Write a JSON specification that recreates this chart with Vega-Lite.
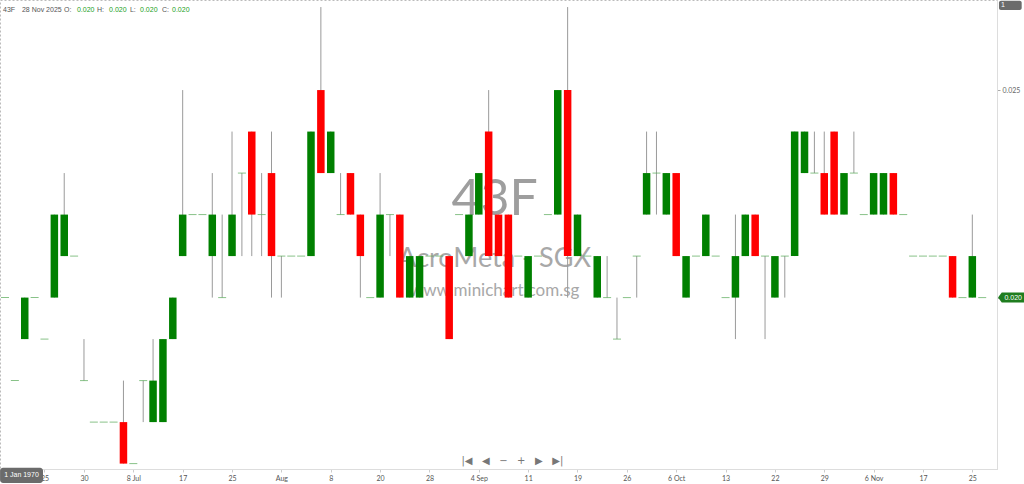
{
  "$schema": "https://vega.github.io/schema/vega-lite/v6.json",
  "width": 997,
  "height": 469,
  "autosize": {"type": "none"},
  "padding": {"left": 0, "top": 0, "right": 27, "bottom": 15},
  "background": "white",
  "config": {"view": {"stroke": "#bbbbbb", "strokeDash": [2, 2]}, "font": "Lato"},
  "data": {"values": [
    {"i":0,"o":0.020,"h":0.020,"l":0.020,"c":0.020},
    {"i":1,"o":0.018,"h":0.018,"l":0.018,"c":0.018},
    {"i":2,"o":0.019,"h":0.020,"l":0.019,"c":0.020},
    {"i":3,"o":0.020,"h":0.020,"l":0.020,"c":0.020},
    {"i":4,"o":0.019,"h":0.019,"l":0.019,"c":0.019},
    {"i":5,"o":0.020,"h":0.022,"l":0.020,"c":0.022},
    {"i":6,"o":0.021,"h":0.023,"l":0.021,"c":0.022},
    {"i":7,"o":0.021,"h":0.021,"l":0.021,"c":0.021},
    {"i":8,"o":0.018,"h":0.019,"l":0.018,"c":0.018},
    {"i":9,"o":0.017,"h":0.017,"l":0.017,"c":0.017},
    {"i":10,"o":0.017,"h":0.017,"l":0.017,"c":0.017},
    {"i":11,"o":0.017,"h":0.017,"l":0.017,"c":0.017},
    {"i":12,"o":0.017,"h":0.018,"l":0.016,"c":0.016},
    {"i":13,"o":0.016,"h":0.016,"l":0.016,"c":0.016},
    {"i":14,"o":0.018,"h":0.018,"l":0.017,"c":0.018},
    {"i":15,"o":0.017,"h":0.019,"l":0.017,"c":0.018},
    {"i":16,"o":0.017,"h":0.019,"l":0.017,"c":0.019},
    {"i":17,"o":0.019,"h":0.020,"l":0.019,"c":0.020},
    {"i":18,"o":0.021,"h":0.025,"l":0.021,"c":0.022},
    {"i":19,"o":0.022,"h":0.022,"l":0.022,"c":0.022},
    {"i":20,"o":0.022,"h":0.022,"l":0.022,"c":0.022},
    {"i":21,"o":0.021,"h":0.023,"l":0.020,"c":0.022},
    {"i":22,"o":0.020,"h":0.022,"l":0.020,"c":0.020},
    {"i":23,"o":0.021,"h":0.024,"l":0.021,"c":0.022},
    {"i":24,"o":0.023,"h":0.023,"l":0.021,"c":0.023},
    {"i":25,"o":0.024,"h":0.024,"l":0.021,"c":0.022},
    {"i":26,"o":0.022,"h":0.023,"l":0.021,"c":0.022},
    {"i":27,"o":0.023,"h":0.024,"l":0.020,"c":0.021},
    {"i":28,"o":0.021,"h":0.021,"l":0.020,"c":0.021},
    {"i":29,"o":0.021,"h":0.021,"l":0.021,"c":0.021},
    {"i":30,"o":0.021,"h":0.021,"l":0.021,"c":0.021},
    {"i":31,"o":0.021,"h":0.024,"l":0.021,"c":0.024},
    {"i":32,"o":0.025,"h":0.027,"l":0.023,"c":0.023},
    {"i":33,"o":0.023,"h":0.024,"l":0.023,"c":0.024},
    {"i":34,"o":0.022,"h":0.023,"l":0.022,"c":0.022},
    {"i":35,"o":0.023,"h":0.023,"l":0.022,"c":0.022},
    {"i":36,"o":0.022,"h":0.022,"l":0.020,"c":0.021},
    {"i":37,"o":0.020,"h":0.020,"l":0.020,"c":0.020},
    {"i":38,"o":0.020,"h":0.023,"l":0.020,"c":0.022},
    {"i":39,"o":0.022,"h":0.022,"l":0.021,"c":0.022},
    {"i":40,"o":0.022,"h":0.022,"l":0.020,"c":0.020},
    {"i":41,"o":0.020,"h":0.021,"l":0.020,"c":0.021},
    {"i":42,"o":0.020,"h":0.021,"l":0.020,"c":0.021},
    {"i":43,"o":0.021,"h":0.021,"l":0.021,"c":0.021},
    {"i":44,"o":0.021,"h":0.021,"l":0.021,"c":0.021},
    {"i":45,"o":0.021,"h":0.021,"l":0.019,"c":0.019},
    {"i":46,"o":0.022,"h":0.022,"l":0.022,"c":0.022},
    {"i":47,"o":0.021,"h":0.022,"l":0.021,"c":0.022},
    {"i":48,"o":0.022,"h":0.023,"l":0.022,"c":0.023},
    {"i":49,"o":0.024,"h":0.025,"l":0.021,"c":0.021},
    {"i":50,"o":0.022,"h":0.022,"l":0.021,"c":0.021},
    {"i":51,"o":0.022,"h":0.022,"l":0.020,"c":0.020},
    {"i":52,"o":0.021,"h":0.021,"l":0.021,"c":0.021},
    {"i":53,"o":0.020,"h":0.021,"l":0.020,"c":0.021},
    {"i":54,"o":0.021,"h":0.021,"l":0.021,"c":0.021},
    {"i":55,"o":0.022,"h":0.022,"l":0.022,"c":0.022},
    {"i":56,"o":0.022,"h":0.025,"l":0.022,"c":0.025},
    {"i":57,"o":0.025,"h":0.027,"l":0.020,"c":0.021},
    {"i":58,"o":0.021,"h":0.022,"l":0.021,"c":0.022},
    {"i":59,"o":0.021,"h":0.021,"l":0.021,"c":0.021},
    {"i":60,"o":0.020,"h":0.021,"l":0.020,"c":0.021},
    {"i":61,"o":0.020,"h":0.021,"l":0.020,"c":0.020},
    {"i":62,"o":0.019,"h":0.020,"l":0.019,"c":0.019},
    {"i":63,"o":0.020,"h":0.020,"l":0.020,"c":0.020},
    {"i":64,"o":0.021,"h":0.021,"l":0.020,"c":0.021},
    {"i":65,"o":0.022,"h":0.024,"l":0.022,"c":0.023},
    {"i":66,"o":0.023,"h":0.024,"l":0.022,"c":0.023},
    {"i":67,"o":0.022,"h":0.023,"l":0.022,"c":0.023},
    {"i":68,"o":0.023,"h":0.023,"l":0.021,"c":0.021},
    {"i":69,"o":0.020,"h":0.021,"l":0.020,"c":0.021},
    {"i":70,"o":0.021,"h":0.021,"l":0.021,"c":0.021},
    {"i":71,"o":0.021,"h":0.022,"l":0.021,"c":0.022},
    {"i":72,"o":0.021,"h":0.021,"l":0.021,"c":0.021},
    {"i":73,"o":0.020,"h":0.020,"l":0.020,"c":0.020},
    {"i":74,"o":0.020,"h":0.022,"l":0.019,"c":0.021},
    {"i":75,"o":0.021,"h":0.022,"l":0.021,"c":0.022},
    {"i":76,"o":0.022,"h":0.022,"l":0.021,"c":0.021},
    {"i":77,"o":0.021,"h":0.021,"l":0.019,"c":0.021},
    {"i":78,"o":0.020,"h":0.021,"l":0.020,"c":0.021},
    {"i":79,"o":0.021,"h":0.021,"l":0.020,"c":0.021},
    {"i":80,"o":0.021,"h":0.024,"l":0.021,"c":0.024},
    {"i":81,"o":0.023,"h":0.024,"l":0.023,"c":0.024},
    {"i":82,"o":0.023,"h":0.024,"l":0.023,"c":0.023},
    {"i":83,"o":0.023,"h":0.024,"l":0.022,"c":0.022},
    {"i":84,"o":0.024,"h":0.024,"l":0.022,"c":0.022},
    {"i":85,"o":0.022,"h":0.023,"l":0.022,"c":0.023},
    {"i":86,"o":0.023,"h":0.024,"l":0.023,"c":0.023},
    {"i":87,"o":0.022,"h":0.022,"l":0.022,"c":0.022},
    {"i":88,"o":0.022,"h":0.023,"l":0.022,"c":0.023},
    {"i":89,"o":0.022,"h":0.023,"l":0.022,"c":0.023},
    {"i":90,"o":0.023,"h":0.023,"l":0.022,"c":0.022},
    {"i":91,"o":0.022,"h":0.022,"l":0.022,"c":0.022},
    {"i":92,"o":0.021,"h":0.021,"l":0.021,"c":0.021},
    {"i":93,"o":0.021,"h":0.021,"l":0.021,"c":0.021},
    {"i":94,"o":0.021,"h":0.021,"l":0.021,"c":0.021},
    {"i":95,"o":0.021,"h":0.021,"l":0.021,"c":0.021},
    {"i":96,"o":0.021,"h":0.021,"l":0.020,"c":0.020},
    {"i":97,"o":0.020,"h":0.020,"l":0.020,"c":0.020},
    {"i":98,"o":0.020,"h":0.022,"l":0.020,"c":0.021},
    {"i":99,"o":0.020,"h":0.020,"l":0.020,"c":0.020}
  ]},
  "encoding": {
    "x": {
      "field": "i", "type": "quantitative",
      "scale": {"domain": [-0.507, 100.5], "nice": false, "zero": false, "padding": 0},
      "axis": {
        "values": [4, 8, 13, 18, 23, 28, 33, 38, 43, 48, 53, 58, 63, 68, 73, 78, 83, 88, 93, 98],
        "labelExpr": "({'4':'25','8':'30','13':'8 Jul','18':'17','23':'25','28':'Aug','33':'8','38':'20','43':'28','48':'4 Sep','53':'11','58':'19','63':'26','68':'6 Oct','73':'13','78':'22','83':'29','88':'6 Nov','93':'17','98':'25'})[datum.value + '']",
        "title": null, "grid": false, "domainColor": "#dddddd", "tickColor": "#cccccc",
        "tickSize": 3, "labelColor": "#555555", "labelFontSize": 7, "labelPadding": 2, "labelFont": "Lato"
      }
    }
  },
  "layer": [
    {
      "transform": [{"filter": "datum.i == 99"}],
      "mark": {"type": "text", "fontSize": 50, "color": "#9e9e9e", "font": "Lato", "align": "center", "baseline": "middle"},
      "encoding": {"x": {"datum": 49.6}, "y": {"datum": 0.02234, "type": "quantitative", "scale": {"domain": [0.01587, 0.02717], "nice": false, "zero": false, "padding": 0},
          "axis": {"orient": "right", "values": [0.020, 0.025], "format": ".3f", "title": null, "grid": false,
            "domainColor": "#dddddd", "tickColor": "#aaaaaa", "tickSize": 3, "labelColor": "#666666", "labelFontSize": 7, "labelPadding": 2, "labelFont": "Lato"}}, "text": {"value": "43F"}}
    },
    {
      "transform": [{"filter": "datum.i == 99"}],
      "mark": {"type": "text", "fontSize": 27, "color": "#a8a8a8", "font": "Lato", "align": "center", "baseline": "middle"},
      "encoding": {"x": {"datum": 49.6}, "y": {"datum": 0.02094, "type": "quantitative"}, "text": {"value": "AcroMeta - SGX"}}
    },
    {
      "transform": [{"filter": "datum.i == 99"}],
      "mark": {"type": "text", "fontSize": 17, "color": "#a8a8a8", "font": "Lato", "align": "center", "baseline": "middle"},
      "encoding": {"x": {"datum": 49.6}, "y": {"datum": 0.02017, "type": "quantitative"}, "text": {"value": "www.minichart.com.sg"}}
    },
    {
      "transform": [{"filter": "datum.h > datum.l"}],
      "mark": {"type": "rule", "color": "#9a9a9a", "strokeWidth": 1},
      "encoding": {
        "y": {"field": "l", "type": "quantitative"},
        "y2": {"field": "h"}
      }
    },
    {
      "transform": [{"filter": "datum.o != datum.c"}],
      "mark": {"type": "bar", "size": 7.5},
      "encoding": {
        "y": {"field": "o", "type": "quantitative"},
        "y2": {"field": "c"},
        "color": {"condition": {"test": "datum.c > datum.o", "value": "#008000"}, "value": "#ff0000"}
      }
    },
    {
      "transform": [{"filter": "datum.o == datum.c"}],
      "mark": {"type": "tick", "orient": "horizontal", "size": 8, "thickness": 1, "color": "#55a855"},
      "encoding": {"y": {"field": "c", "type": "quantitative"}}
    },
    {
      "transform": [{"filter": "datum.i == 99"}],
      "mark": {"type": "point", "shape": "M-1,0L-0.72,-0.38L1,-0.38L1,0.38L-0.72,0.38Z", "size": 690, "filled": true, "color": "#1f7d1f", "opacity": 1, "xOffset": 29, "clip": false},
      "encoding": {"y": {"field": "c", "type": "quantitative"}}
    },
    {
      "transform": [{"filter": "datum.i == 99"}],
      "mark": {"type": "text", "fontSize": 7, "color": "white", "dx": 31, "align": "center", "baseline": "middle", "font": "Liberation Sans"},
      "encoding": {"y": {"field": "c", "type": "quantitative"}, "text": {"field": "c", "format": ".3f"}}
    },
    {
      "transform": [{"filter": "datum.i == 99"}],
      "mark": {"type": "text", "fontSize": 7, "color": "#555555", "align": "left", "baseline": "middle", "font": "Liberation Sans"},
      "encoding": {"x": {"datum": -0.2}, "y": {"datum": 0.02692, "type": "quantitative"}, "text": {"value": "43F"}}
    },
    {
      "transform": [{"filter": "datum.i == 99"}],
      "mark": {"type": "text", "fontSize": 7, "color": "#555555", "align": "left", "baseline": "middle", "font": "Liberation Sans"},
      "encoding": {"x": {"datum": 1.72}, "y": {"datum": 0.02692, "type": "quantitative"}, "text": {"value": "28 Nov 2025"}}
    },
    {
      "transform": [{"filter": "datum.i == 99"}],
      "mark": {"type": "text", "fontSize": 7, "color": "#555555", "align": "left", "baseline": "middle", "font": "Liberation Sans"},
      "encoding": {"x": {"datum": 5.98}, "y": {"datum": 0.02692, "type": "quantitative"}, "text": {"value": "O:"}}
    },
    {
      "transform": [{"filter": "datum.i == 99"}],
      "mark": {"type": "text", "fontSize": 7, "color": "#555555", "align": "left", "baseline": "middle", "font": "Liberation Sans"},
      "encoding": {"x": {"datum": 9.32}, "y": {"datum": 0.02692, "type": "quantitative"}, "text": {"value": "H:"}}
    },
    {
      "transform": [{"filter": "datum.i == 99"}],
      "mark": {"type": "text", "fontSize": 7, "color": "#555555", "align": "left", "baseline": "middle", "font": "Liberation Sans"},
      "encoding": {"x": {"datum": 12.66}, "y": {"datum": 0.02692, "type": "quantitative"}, "text": {"value": "L:"}}
    },
    {
      "transform": [{"filter": "datum.i == 99"}],
      "mark": {"type": "text", "fontSize": 7, "color": "#555555", "align": "left", "baseline": "middle", "font": "Liberation Sans"},
      "encoding": {"x": {"datum": 15.9}, "y": {"datum": 0.02692, "type": "quantitative"}, "text": {"value": "C:"}}
    },
    {
      "transform": [{"filter": "datum.i == 99"}],
      "mark": {"type": "text", "fontSize": 7, "color": "#22a022", "align": "left", "baseline": "middle", "font": "Liberation Sans"},
      "encoding": {"x": {"datum": 7.29}, "y": {"datum": 0.02692, "type": "quantitative"}, "text": {"field": "o", "format": ".3f"}}
    },
    {
      "transform": [{"filter": "datum.i == 99"}],
      "mark": {"type": "text", "fontSize": 7, "color": "#22a022", "align": "left", "baseline": "middle", "font": "Liberation Sans"},
      "encoding": {"x": {"datum": 10.54}, "y": {"datum": 0.02692, "type": "quantitative"}, "text": {"field": "h", "format": ".3f"}}
    },
    {
      "transform": [{"filter": "datum.i == 99"}],
      "mark": {"type": "text", "fontSize": 7, "color": "#22a022", "align": "left", "baseline": "middle", "font": "Liberation Sans"},
      "encoding": {"x": {"datum": 13.68}, "y": {"datum": 0.02692, "type": "quantitative"}, "text": {"field": "l", "format": ".3f"}}
    },
    {
      "transform": [{"filter": "datum.i == 99"}],
      "mark": {"type": "text", "fontSize": 7, "color": "#22a022", "align": "left", "baseline": "middle", "font": "Liberation Sans"},
      "encoding": {"x": {"datum": 16.92}, "y": {"datum": 0.02692, "type": "quantitative"}, "text": {"field": "c", "format": ".3f"}}
    },
    {
      "transform": [{"filter": "datum.i == 99"}],
      "mark": {"type": "text", "fontSize": 10, "color": "#777777", "align": "center", "baseline": "middle", "font": "DejaVu Sans"},
      "encoding": {"x": {"datum": 51.4}, "y": {"datum": 0.01606, "type": "quantitative"}, "text": {"value": "|◀\u00a0\u00a0\u00a0◀\u00a0\u00a0\u00a0−\u00a0\u00a0\u00a0+\u00a0\u00a0\u00a0▶\u00a0\u00a0\u00a0▶|"}}
    },
    {
      "transform": [{"filter": "datum.i == 99"}],
      "mark": {"type": "rect", "color": "#6b6b6b", "cornerRadius": 3, "clip": false},
      "encoding": {"x": {"datum": -0.5}, "x2": {"datum": 3.85}, "y": {"datum": 0.01590, "type": "quantitative"}, "y2": {"datum": 0.01553}}
    },
    {
      "transform": [{"filter": "datum.i == 99"}],
      "mark": {"type": "text", "fontSize": 7, "color": "white", "align": "center", "baseline": "middle", "font": "Liberation Sans", "clip": false},
      "encoding": {"x": {"datum": 1.67}, "y": {"datum": 0.01572, "type": "quantitative"}, "text": {"value": "1 Jan 1970"}}
    },
    {
      "transform": [{"filter": "datum.i == 99"}],
      "mark": {"type": "rect", "color": "#6b6b6b", "cornerRadius": 2, "clip": false},
      "encoding": {"x": {"datum": 100.7}, "x2": {"datum": 103.0}, "y": {"datum": 0.02715, "type": "quantitative"}, "y2": {"datum": 0.02693}}
    },
    {
      "transform": [{"filter": "datum.i == 99"}],
      "mark": {"type": "text", "fontSize": 7, "color": "white", "align": "left", "baseline": "middle", "font": "Liberation Sans", "clip": false},
      "encoding": {"x": {"datum": 100.9}, "y": {"datum": 0.02704, "type": "quantitative"}, "text": {"value": "1"}}
    }
  ]
}
